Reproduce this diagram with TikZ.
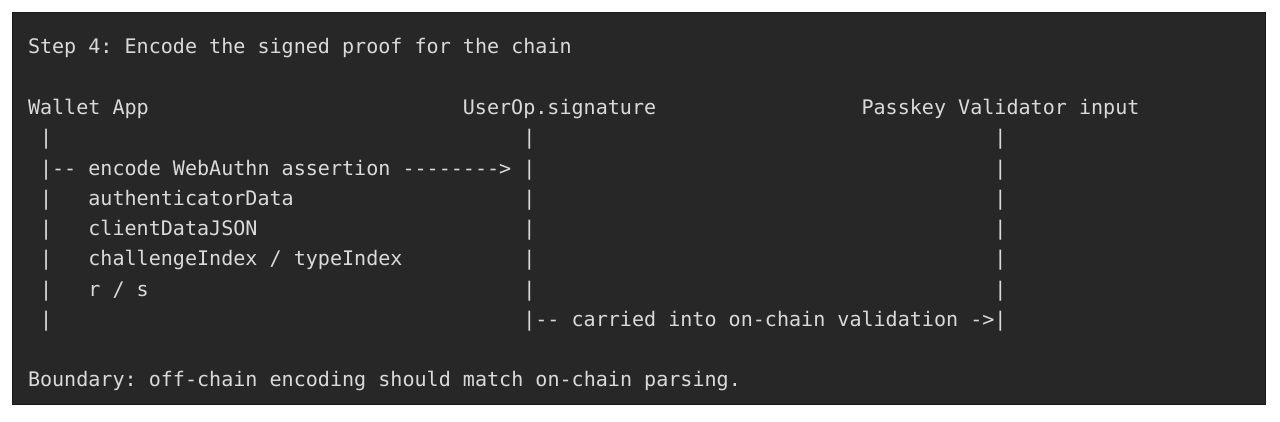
\documentclass[tikz,border=0pt]{standalone}
\usepackage{fontspec}
\setmonofont{DejaVu Sans Mono}
\definecolor{bg}{HTML}{272727}
\definecolor{fg}{HTML}{DADADA}
\definecolor{edge}{HTML}{1A1A1A}
\begin{document}
\begin{tikzpicture}[x=1pt,y=1pt,
  code/.style={anchor=base west, inner sep=0pt, outer sep=0pt, text=fg,
    font=\ttfamily\fontsize{20.07}{24}\selectfont},
  panel/.style={fill=bg, draw=edge, line width=0.8pt}]
\def\cw{12.08}
\def\lh{30.27}
\useasboundingbox (0,0) rectangle (1280,421);
\fill[white] (0,0) rectangle (1280,421);
\filldraw[panel] (12,17) rectangle (1265,409);
% baselines (pixel y from top -> tikz y = 421 - py)
\def\rowy#1{421-54-#1*\lh}
\node[code] (title) at (28,{\rowy{0}}) {Step 4: Encode the signed proof for the chain};
\node[code] (wallet) at (28,{\rowy{2}}) {Wallet App};
\node[code] (userop) at ({28+36*\cw},{\rowy{2}}) {UserOp.signature};
\node[code] (passkey) at ({28+69*\cw},{\rowy{2}}) {Passkey Validator input};
% row 3
\node[code] (a3) at ({28+1*\cw},{\rowy{3}}) {|};
\node[code] (b3) at ({28+41*\cw},{\rowy{3}}) {|};
\node[code] (c3) at ({28+80*\cw},{\rowy{3}}) {|};
% row 4
\node[code] (a4) at ({28+1*\cw},{\rowy{4}}) {|-- encode WebAuthn assertion -------->};
\node[code] (b4) at ({28+41*\cw},{\rowy{4}}) {|};
\node[code] (c4) at ({28+80*\cw},{\rowy{4}}) {|};
% row 5
\node[code] (a5) at ({28+1*\cw},{\rowy{5}}) {|};
\node[code] (t5) at ({28+5*\cw},{\rowy{5}}) {authenticatorData};
\node[code] (b5) at ({28+41*\cw},{\rowy{5}}) {|};
\node[code] (c5) at ({28+80*\cw},{\rowy{5}}) {|};
% row 6
\node[code] (a6) at ({28+1*\cw},{\rowy{6}}) {|};
\node[code] (t6) at ({28+5*\cw},{\rowy{6}}) {clientDataJSON};
\node[code] (b6) at ({28+41*\cw},{\rowy{6}}) {|};
\node[code] (c6) at ({28+80*\cw},{\rowy{6}}) {|};
% row 7
\node[code] (a7) at ({28+1*\cw},{\rowy{7}}) {|};
\node[code] (t7) at ({28+5*\cw},{\rowy{7}}) {challengeIndex / typeIndex};
\node[code] (b7) at ({28+41*\cw},{\rowy{7}}) {|};
\node[code] (c7) at ({28+80*\cw},{\rowy{7}}) {|};
% row 8
\node[code] (a8) at ({28+1*\cw},{\rowy{8}}) {|};
\node[code] (t8) at ({28+5*\cw},{\rowy{8}}) {r / s};
\node[code] (b8) at ({28+41*\cw},{\rowy{8}}) {|};
\node[code] (c8) at ({28+80*\cw},{\rowy{8}}) {|};
% row 9
\node[code] (a9) at ({28+1*\cw},{\rowy{9}}) {|};
\node[code] (b9) at ({28+41*\cw},{\rowy{9}}) {|-- carried into on-chain validation ->|};
% footer
\node[code] (boundary) at (28,{\rowy{11}}) {Boundary: off-chain encoding should match on-chain parsing.};
\end{tikzpicture}
\end{document}
